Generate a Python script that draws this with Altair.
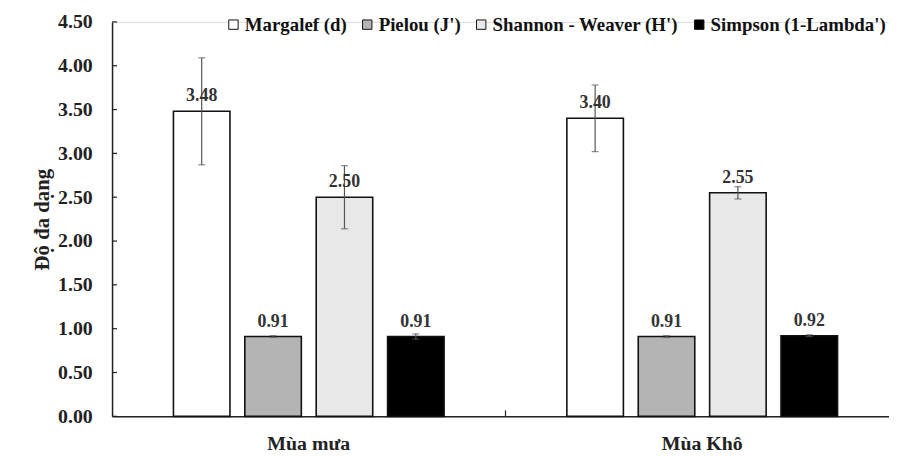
import altair as alt
import pandas as pd

seasons = ["Mùa mưa", "Mùa Khô"]
indices = ["Margalef (d)", "Pielou (J')", "Shannon - Weaver (H')", "Simpson (1-Lambda')"]
values_mua = [3.48, 0.91, 2.50, 0.91]
values_kho = [3.40, 0.91, 2.55, 0.92]
err_mua = [0.61, 0.01, 0.36, 0.03]
err_kho = [0.38, 0.01, 0.07, 0.01]
y_ticks = [0.0, 0.5, 1.0, 1.5, 2.0, 2.5, 3.0, 3.5, 4.0, 4.5]
fills = ["#ffffff", "#b4b4b4", "#e8e8e8", "#000000"]

rows = []
for s, vals, errs in [(seasons[0], values_mua, err_mua), (seasons[1], values_kho, err_kho)]:
    for i, v, e in zip(indices, vals, errs):
        rows.append({"season": s, "index": i, "value": v, "lo": v - e, "hi": v + e})
df = pd.DataFrame(rows)
ticks_df = pd.DataFrame({"t": y_ticks})

FONT = "Times New Roman, Liberation Serif, serif"
W, H = 784, 398

x_enc = alt.X("season:N", sort=seasons,
              scale=alt.Scale(range=[0, 794], paddingInner=0.312, paddingOuter=0.156),
              axis=alt.Axis(title=None, labelFont=FONT, labelFontSize=20, labelFontWeight="bold",
                            labelColor="#222", labelPadding=17, ticks=False, domainColor="#222",
                            domainWidth=1.5, labelAngle=0))
xo_enc = alt.XOffset("index:N", sort=indices,
                     scale=alt.Scale(paddingInner=0.208, paddingOuter=0))
y_scale = alt.Scale(domain=[0, 4.5], nice=False, zero=True)

base = alt.Chart(df)

bars = base.mark_bar(stroke="#111", strokeWidth=1.6).encode(
    x=x_enc,
    xOffset=xo_enc,
    y=alt.Y("value:Q", scale=y_scale,
            axis=alt.Axis(title="Độ đa dạng", values=y_ticks, format=".2f", grid=False, ticks=False,
                          labelFont=FONT, labelFontSize=20, labelFontWeight="bold", labelColor="#222",
                          labelPadding=20, domainColor="#222", domainWidth=1.5,
                          titleFont=FONT, titleFontSize=21, titleFontWeight="bold", titleColor="#222",
                          titlePadding=5)),
    color=alt.Color("index:N", sort=indices,
                    scale=alt.Scale(domain=indices, range=fills),
                    legend=alt.Legend(title=None, orient="none", legendX=113, legendY=-7,
                                      direction="horizontal", symbolType="square", symbolSize=90,
                                      symbolStrokeColor="#111", symbolStrokeWidth=1,
                                      labelFont=FONT, labelFontSize=19, labelFontWeight="bold",
                                      labelColor="#111", labelOffset=2, columnPadding=11,
                                      labelLimit=400)),
)

err = base.mark_rule(color="#555", strokeWidth=1.2).encode(
    x=alt.X("season:N", sort=seasons),
    xOffset=alt.XOffset("index:N", sort=indices),
    y="lo:Q", y2="hi:Q",
)
cap_lo = base.mark_tick(color="#555", thickness=1.2, size=7, orient="horizontal").encode(
    x=alt.X("season:N", sort=seasons),
    xOffset=alt.XOffset("index:N", sort=indices),
    y="lo:Q",
)
cap_hi = base.mark_tick(color="#555", thickness=1.2, size=7, orient="horizontal").encode(
    x=alt.X("season:N", sort=seasons),
    xOffset=alt.XOffset("index:N", sort=indices),
    y="hi:Q",
)
labels = base.mark_text(font=FONT, fontSize=18, fontWeight="bold", color="#333",
                        baseline="bottom", dy=-6).encode(
    x=alt.X("season:N", sort=seasons),
    xOffset=alt.XOffset("index:N", sort=indices),
    y="value:Q",
    text=alt.Text("value:Q", format=".2f"),
)

ytick_marks = alt.Chart(ticks_df).mark_rule(color="#222", strokeWidth=1.2).encode(
    y=alt.Y("t:Q", scale=y_scale),
    x=alt.value(0), x2=alt.value(5),
)
mid_tick = alt.Chart(ticks_df.head(1)).mark_rule(color="#222", strokeWidth=1.2).encode(
    x=alt.value(397), y=alt.value(H), y2=alt.value(H - 6),
)

chart = alt.layer(bars, err, cap_lo, cap_hi, labels, ytick_marks, mid_tick).properties(
    width=W, height=H,
    autosize=alt.AutoSizeParams(type="none"),
    padding={"left": 105, "top": 12, "right": 0, "bottom": 40},
).configure_view(stroke=None).configure(background="white")

chart.save("out.html", embed_options={"renderer": "svg", "actions": False})
